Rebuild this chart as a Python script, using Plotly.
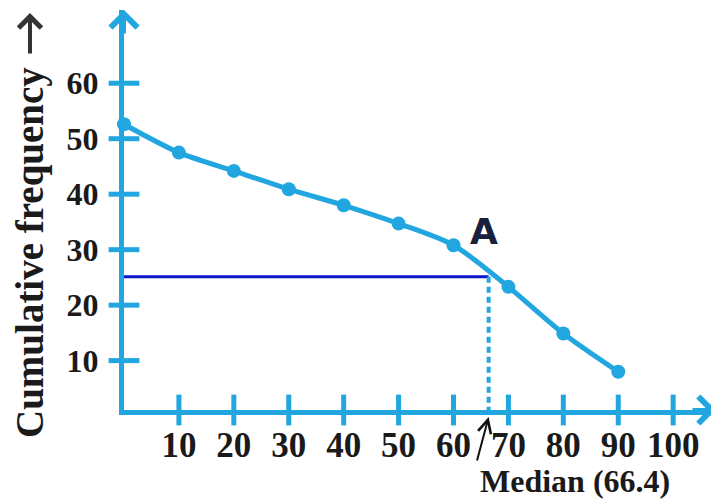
import plotly.graph_objects as go

# Дані з графіка (огіва "більше ніж")
lower_limits = [0, 10, 20, 30, 40, 50, 60, 70, 80, 90]
cum_freq = [52.6, 47.5, 44.2, 40.9, 38.0, 34.7, 30.8, 23.3, 14.9, 8.0]
x_ticks = [10, 20, 30, 40, 50, 60, 70, 80, 90, 100]
y_ticks = [10, 20, 30, 40, 50, 60]
median_x = 66.4
median_cf = 25.1

blue = "#22a6e0"
serif = "Liberation Serif"
dark = "#1a1a1a"
x_min, x_max = 0, 107.8
y_min, y_max = 1.1, 73.2

fig = go.Figure()

# лінія n/2 і пунктир до медіани
fig.add_trace(go.Scatter(x=[x_min, median_x], y=[median_cf, median_cf], mode="lines",
                         line=dict(color="#0c14cc", width=3), cliponaxis=False))
fig.add_trace(go.Scatter(x=[median_x, median_x], y=[median_cf, y_min], mode="lines",
                         line=dict(color=blue, width=4, dash="6px,4px"), cliponaxis=False))

# огіва
fig.add_trace(go.Scatter(x=lower_limits, y=cum_freq, mode="lines+markers",
                         line=dict(color=blue, width=5, shape="spline", smoothing=0.8),
                         marker=dict(color=blue, size=14), cliponaxis=False))

# поділки, що перетинають осі
fig.add_trace(go.Scatter(x=[x_min] * len(y_ticks), y=y_ticks, mode="markers",
                         marker=dict(symbol="line-ew", size=22, line=dict(color=blue, width=5)),
                         cliponaxis=False))
fig.add_trace(go.Scatter(x=x_ticks, y=[y_min] * len(x_ticks), mode="markers",
                         marker=dict(symbol="line-ns", size=22, line=dict(color=blue, width=5)),
                         cliponaxis=False))

# стрілки на кінцях осей
fig.add_annotation(x=x_max, y=y_min, ax=-25, ay=0, text="", showarrow=True,
                   arrowhead=4, arrowwidth=4, arrowsize=1.3, arrowcolor=blue)
fig.add_annotation(x=x_min, y=y_max, ax=0, ay=25, text="", showarrow=True,
                   arrowhead=4, arrowwidth=4, arrowsize=1.3, arrowcolor=blue)

# підписи
fig.add_annotation(x=median_x, yref="paper", y=-0.0175, ax=-12, ay=45, text="", showarrow=True,
                   arrowhead=5, arrowwidth=2, arrowsize=1.3, arrowcolor="#111")
fig.add_annotation(x=82.1, yref="paper", y=-0.1775, yanchor="middle", xanchor="center",
                   text="Median (66.4)", showarrow=False,
                   font=dict(family=serif, size=32, color=dark, weight="bold"))
fig.add_annotation(x=65.5, y=33.2, text="<b>A</b>", showarrow=False,
                   font=dict(family="DejaVu Sans", size=36, color="#18203c"))
fig.add_annotation(xref="paper", x=-0.1588, yref="paper", y=0.395, textangle=-90,
                   xanchor="center", yanchor="middle",
                   text="Cumulative frequency", showarrow=False,
                   font=dict(family=serif, size=39, color=dark, weight="bold"))
fig.add_annotation(xref="paper", x=-0.1588, yref="paper", y=0.9925, ax=0, ay=42,
                   text="", showarrow=True, arrowhead=4, arrowwidth=4, arrowsize=1.1,
                   arrowcolor="#333")

fig.update_layout(
    width=711, height=492,
    margin=dict(l=116, r=3, t=2, b=90),
    plot_bgcolor="white", paper_bgcolor="white",
    showlegend=False,
    xaxis=dict(range=[x_min, x_max], showgrid=False, zeroline=False, automargin=False,
               showline=True, linecolor=blue, linewidth=5,
               tickvals=x_ticks, ticks="", ticklabelstandoff=0,
               tickfont=dict(family=serif, size=35, color=dark, weight="bold")),
    yaxis=dict(range=[y_min, y_max], showgrid=False, zeroline=False, automargin=False,
               showline=True, linecolor=blue, linewidth=5,
               tickvals=y_ticks, ticks="", ticklabelstandoff=14,
               tickfont=dict(family=serif, size=32, color=dark, weight="bold")),
)

fig.write_html("out.html")
